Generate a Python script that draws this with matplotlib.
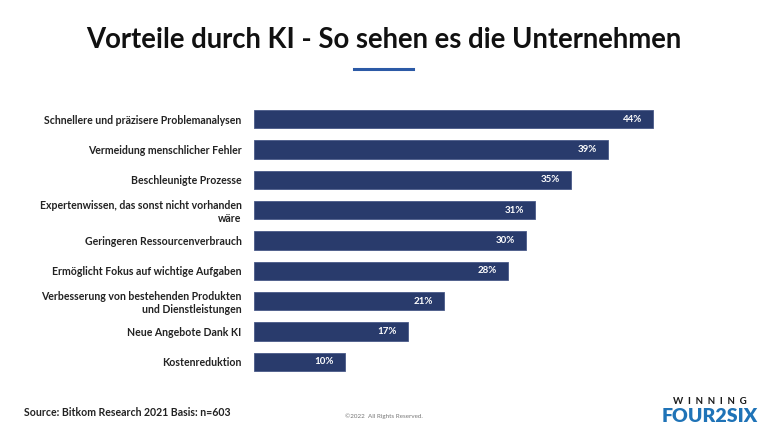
import matplotlib
matplotlib.use("Agg")
import matplotlib.pyplot as plt

plt.rcParams["font.family"] = ["Lato", "DejaVu Sans"]

# Daten
categories = [
    "Schnellere und präzisere Problemanalysen",
    "Vermeidung menschlicher Fehler",
    "Beschleunigte Prozesse",
    "Expertenwissen, das sonst nicht vorhanden\nwäre",
    "Geringeren Ressourcenverbrauch",
    "Ermöglicht Fokus auf wichtige Aufgaben",
    "Verbesserung von bestehenden Produkten\nund Dienstleistungen",
    "Neue Angebote Dank KI",
    "Kostenreduktion",
]
values = [44, 39, 35, 31, 30, 28, 21, 17, 10]

BAR = "#293b6c"
W, H = 768, 432

fig = plt.figure(figsize=(7.68, 4.32), dpi=100, facecolor="white")

# Titel + Unterstrich
fig.text(0.5, 1 - 40 / H, "Vorteile durch KI - So sehen es die Unternehmen",
         ha="center", va="center", fontsize=19.8, fontweight="bold", color="#111111")
fig.add_artist(plt.Line2D([354 / W, 413 / W], [1 - 69 / H, 1 - 69 / H],
                          color="#2c5aa6", linewidth=2.2))

# Balken
top, bottom = 104, 377
ax = fig.add_axes([254 / W, 1 - bottom / H, 446 / W, (bottom - top) / H])
y = list(range(len(categories)))
ax.barh(y, values, height=0.6, color=BAR, edgecolor="#4a5a88", linewidth=0.6)
ax.set_xlim(0, 446 / 9.07)
ax.set_ylim(len(categories) - 0.5, -0.5)
ax.set_xticks([])
ax.set_yticks(y)
ax.set_yticklabels(categories, fontsize=7.6, fontweight="bold", color="#222222",
                   ha="right", linespacing=1.15)
ax.tick_params(axis="y", length=0, pad=9)
for s in ax.spines.values():
    s.set_visible(False)

for yi, v in zip(y, values):
    ax.annotate(f"{v}%", (v, yi), xytext=(-8, 0), textcoords="offset points",
                ha="right", va="center", fontsize=7, fontweight="bold", color="white")

# Fußzeile
fig.text(24 / W, 1 - 413 / H, "Source: Bitkom Research 2021 Basis: n=603",
         ha="left", va="center", fontsize=7.6, fontweight="bold", color="#222222")
fig.text(384 / W, 1 - 416 / H, "©2022  All Rights Reserved.",
         ha="center", va="center", fontsize=4.5, color="#777777")

# Logo
fig.text(710 / W, 1 - 401 / H, "W  I  N  N  I  N  G", ha="center", va="center",
         fontsize=7, fontweight="bold", color="#1a1a1a")
fig.text(710 / W, 1 - 416 / H, "FOUR2SIX", ha="center", va="center",
         fontsize=14, fontweight="heavy", color="#1f73b7")

fig.savefig("out.png", dpi=100, facecolor="white")
